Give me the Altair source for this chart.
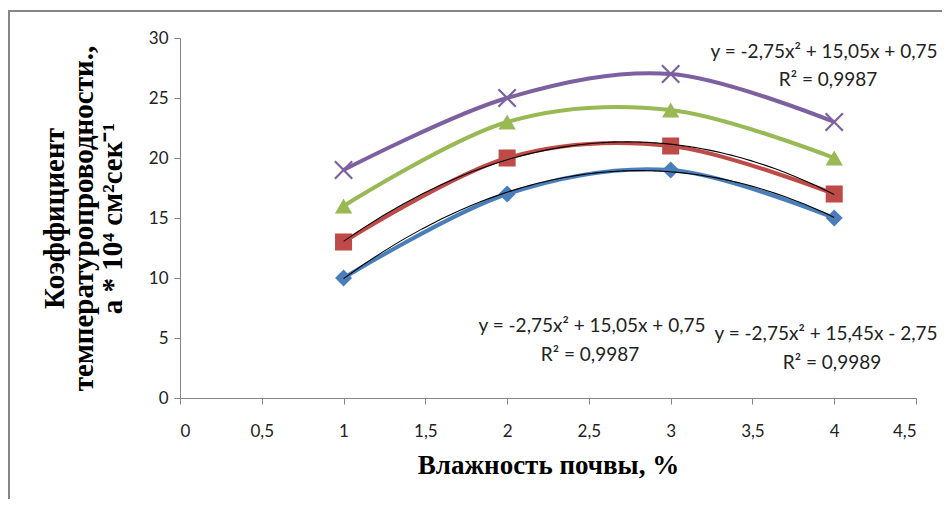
import altair as alt
import pandas as pd

# ---- data ----
x_vals = [1, 2, 3, 4]
series_names = ["Ряд1", "Ряд2", "Ряд3", "Ряд4"]
blue_vals = [10, 17, 19, 15]
red_vals = [13, 20, 21, 17]
green_vals = [16, 23, 24, 20]
purple_vals = [19, 25, 27, 23]
series_colors = ["#4A7EBB", "#BE4B48", "#98B954", "#7D60A0"]
x_ticks = [0, 0.5, 1, 1.5, 2, 2.5, 3, 3.5, 4, 4.5]
y_ticks = [0, 5, 10, 15, 20, 25, 30]
trend_series = ["Ряд1", "Ряд2"]
eq_top = ["y = -2,75x² + 15,05x + 0,75", "R² = 0,9987"]
eq_left = ["y = -2,75x² + 15,05x + 0,75", "R² = 0,9987"]
eq_right = ["y = -2,75x² + 15,45x - 2,75", "R² = 0,9989"]
x_title = "Влажность почвы, %"
y_title = ["Коэффициент", "температуропроводности.,", "а * 10⁴ см²сек⁻¹"]

rows = []
for name, vals in zip(series_names, [blue_vals, red_vals, green_vals, purple_vals]):
    for xv, yv in zip(x_vals, vals):
        rows.append({"series": name, "x": xv, "y": yv})
df = pd.DataFrame(rows)

W, H = 736, 360
AXIS_GRAY = "#868686"
LABEL_FONT = "Lato"

color_scale = alt.Scale(domain=series_names, range=series_colors)

x_enc = alt.X(
    "x:Q",
    scale=alt.Scale(domain=[0, 4.5], nice=False, zero=False),
    axis=alt.Axis(
        values=x_ticks,
        labelExpr="replace(format(datum.value, '~g'), '.', ',')",
        title=x_title,
        titleFont="Liberation Serif",
        titleFontSize=27,
        titleFontWeight="bold",
        titleColor="black",
        titlePadding=13,
        labelFont=LABEL_FONT,
        labelFontSize=17,
        labelColor="#222222",
        labelPadding=19,
        domainColor=AXIS_GRAY,
        tickColor=AXIS_GRAY,
        tickSize=6,
        grid=False,
    ),
)
y_enc = alt.Y(
    "y:Q",
    scale=alt.Scale(domain=[0, 30], nice=False),
    axis=alt.Axis(
        values=y_ticks,
        title=y_title,
        titleFont="Liberation Serif",
        titleFontSize=29,
        titleFontWeight="bold",
        titleColor="black",
        titleLineHeight=29,
        titleBaseline="top",
        titleAngle=270,
        titleX=-140,
        titleY=H / 2,
        titleAlign="center",
        labelFont=LABEL_FONT,
        labelFontSize=17,
        labelColor="#222222",
        labelPadding=6,
        domainColor=AXIS_GRAY,
        tickColor=AXIS_GRAY,
        tickSize=6,
        grid=False,
    ),
)

base = alt.Chart(df)

lines = base.mark_line(interpolate="cardinal", strokeWidth=4).encode(
    x=x_enc, y=y_enc,
    color=alt.Color("series:N", scale=color_scale, legend=None),
    detail="series:N",
)

def pts(name, shape, size, filled=True):
    return base.transform_filter(alt.datum.series == name).mark_point(
        shape=shape, size=size, filled=filled, opacity=1,
        strokeWidth=2.2 if not filled else 1,
    ).encode(
        x="x:Q", y="y:Q",
        color=alt.Color("series:N", scale=color_scale, legend=None),
    )

p_blue = pts(series_names[0], "diamond", 290)
p_red = pts(series_names[1], "square", 290)
p_green = pts(series_names[2], "triangle-up", 300)
p_purple = pts(series_names[3], "M-1,-1L1,1M-1,1L1,-1", 300, filled=False)

trend = base.transform_filter(
    alt.FieldOneOfPredicate(field="series", oneOf=trend_series)
).transform_regression(
    "x", "y", method="poly", order=2, groupby=["series"], extent=[1, 4]
).mark_line(color="black", strokeWidth=1.1).encode(
    x="x:Q", y="y:Q", detail="series:N"
)

EQ_SIZE = 19

def label(text, px, py):
    return alt.Chart(pd.DataFrame({"t": [text]})).mark_text(
        font=LABEL_FONT, fontSize=EQ_SIZE, color="#222222", align="center", baseline="middle"
    ).encode(text="t:N", x=alt.value(px), y=alt.value(py))

texts = [
    label(eq_top[0], 644, 14), label(eq_top[1], 648, 42),
    label(eq_left[0], 412, 288), label(eq_left[1], 410, 317),
    label(eq_right[0], 646, 296), label(eq_right[1], 652, 325),
]

frame_df = pd.DataFrame({"k": [0]})
frame_top = alt.Chart(frame_df).mark_rule(color=AXIS_GRAY, strokeWidth=2).encode(
    x=alt.value(-171), x2=alt.value(790), y=alt.value(-27)
)
frame_left = alt.Chart(frame_df).mark_rule(color=AXIS_GRAY, strokeWidth=2).encode(
    x=alt.value(-171), y=alt.value(-28), y2=alt.value(480)
)

chart = alt.layer(
    frame_top, frame_left, lines, p_blue, p_red, p_green, p_purple, trend, *texts
).properties(
    width=W, height=H,
    padding={"left": 172, "top": 30, "right": 26, "bottom": 101},
    autosize="none",
    background="white",
).configure_view(stroke=None)

chart.save("out.html", embed_options={"renderer": "svg", "actions": False})
